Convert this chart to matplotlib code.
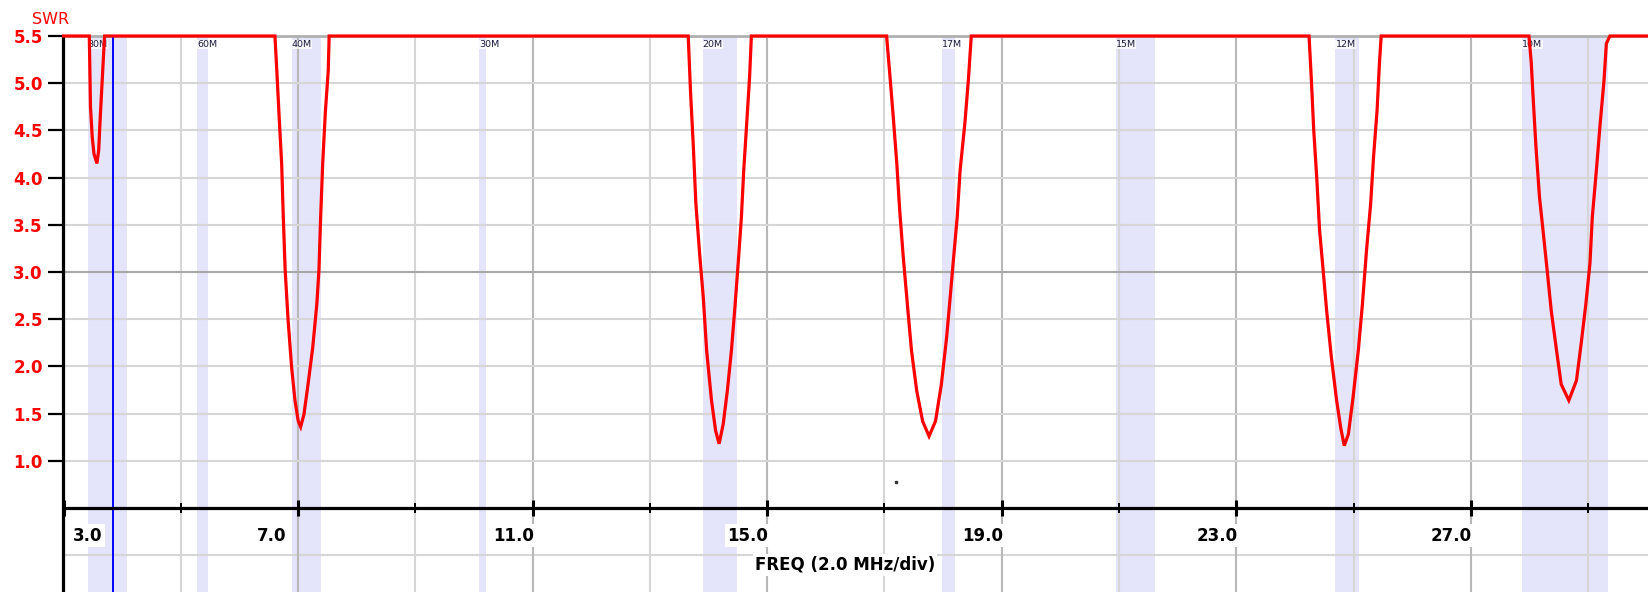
import numpy as np
import matplotlib
matplotlib.use("Agg")
import matplotlib.pyplot as plt
from matplotlib import transforms

# ---------------- data ----------------
band_names = ["80M", "60M", "40M", "30M", "20M", "17M", "15M", "12M", "10M"]
band_lo = [3.41, 5.28, 6.89, 10.09, 13.90, 17.98, 20.94, 24.69, 27.87]
band_hi = [4.08, 5.47, 7.385, 10.20, 14.49, 18.20, 21.61, 25.09, 29.33]

dip_80m_f = [3.44, 3.46, 3.49, 3.52, 3.57, 3.60, 3.63, 3.66, 3.70]
dip_80m_swr = [5.5, 4.75, 4.43, 4.25, 4.15, 4.29, 4.68, 5.03, 5.5]

dip_40m_f = [6.606, 6.646, 6.68, 6.72, 6.748, 6.78, 6.83, 6.89, 6.947, 7.003, 7.044,
             7.10, 7.17, 7.25, 7.32, 7.356, 7.385, 7.42, 7.464, 7.515, 7.53]
dip_40m_swr = [5.5, 5.03, 4.61, 4.15, 3.58, 3.02, 2.49, 1.99, 1.64, 1.42, 1.36,
               1.49, 1.81, 2.20, 2.66, 3.02, 3.58, 4.15, 4.68, 5.14, 5.5]

dip_20m_f = [13.653, 13.694, 13.738, 13.784, 13.852, 13.91, 13.967, 14.05, 14.12, 14.18,
             14.25, 14.32, 14.39, 14.45, 14.505, 14.56, 14.60, 14.65, 14.70, 14.73]
dip_20m_swr = [5.5, 4.89, 4.36, 3.72, 3.16, 2.73, 2.17, 1.64, 1.32, 1.18,
               1.39, 1.74, 2.17, 2.63, 3.09, 3.58, 4.08, 4.57, 5.07, 5.5]

dip_17m_f = [17.036, 17.09, 17.15, 17.21, 17.26, 17.32, 17.39, 17.46, 17.55, 17.65, 17.76,
             17.87, 17.97, 18.06, 18.12, 18.18, 18.24, 18.29, 18.37, 18.43, 18.48]
dip_17m_swr = [5.5, 5.10, 4.64, 4.15, 3.65, 3.16, 2.66, 2.17, 1.74, 1.42, 1.26,
               1.42, 1.81, 2.31, 2.73, 3.16, 3.58, 4.08, 4.57, 5.03, 5.5]

dip_12m_f = [24.24, 24.28, 24.32, 24.37, 24.42, 24.48, 24.54, 24.62, 24.71, 24.78, 24.84,
             24.91, 24.99, 25.08, 25.15, 25.22, 25.29, 25.34, 25.40, 25.44, 25.47]
dip_12m_swr = [5.5, 5.03, 4.50, 4.01, 3.44, 3.02, 2.59, 2.10, 1.64, 1.35, 1.16,
               1.28, 1.67, 2.17, 2.66, 3.23, 3.72, 4.22, 4.71, 5.21, 5.5]

dip_10m_f = [27.99, 28.03, 28.06, 28.11, 28.17, 28.23, 28.30, 28.37, 28.46, 28.54, 28.67,
             28.80, 28.88, 28.96, 29.03, 29.07, 29.14, 29.20, 29.27, 29.31, 29.37]
dip_10m_swr = [5.5, 5.21, 4.86, 4.32, 3.79, 3.44, 3.02, 2.59, 2.17, 1.81, 1.64,
               1.85, 2.24, 2.66, 3.09, 3.58, 4.08, 4.54, 5.03, 5.42, 5.5]

sweep_start, sweep_end = 3.0, 30.02
swr_ceiling = 5.5

marker_freq = 3.85          # blue cursor line
dot_freq, dot_swr = 17.19, 0.78

x_major = [3, 7, 11, 15, 19, 23, 27]
x_minor = [5, 9, 13, 17, 21, 25, 29]
x_labels = ["3.0", "7.0", "11.0", "15.0", "19.0", "23.0", "27.0"]
y_ticks = [1.0, 1.5, 2.0, 2.5, 3.0, 3.5, 4.0, 4.5, 5.0, 5.5]
y_labels = ["1.0", "1.5", "2.0", "2.5", "3.0", "3.5", "4.0", "4.5", "5.0", "5.5"]

freq = np.concatenate([[sweep_start], dip_80m_f, dip_40m_f, dip_20m_f, dip_17m_f,
                       dip_12m_f, dip_10m_f, [sweep_end]])
swr = np.concatenate([[swr_ceiling], dip_80m_swr, dip_40m_swr, dip_20m_swr, dip_17m_swr,
                      dip_12m_swr, dip_10m_swr, [swr_ceiling]])

# ---------------- figure ----------------
W, H = 1648, 592
fig = plt.figure(figsize=(W / 100, H / 100), dpi=100)
ax_left = 63.5 / W
ax_top_px = 36
ax = fig.add_axes([ax_left, 0, 1 - ax_left, 1 - ax_top_px / H])
ax.set_xlim(sweep_start, sweep_end)
ax.set_ylim(-0.39, 5.5)

# ham bands
for lo, hi, name in zip(band_lo, band_hi, band_names):
    ax.axvspan(lo, hi, color="#e4e4fa", zorder=0.2, lw=0)
    ax.text(lo, 5.41, name, fontsize=6.8, color="#1a1a3a", ha="left", va="center",
            zorder=2, bbox=dict(boxstyle="square,pad=0.05", fc="white", ec="none", alpha=0.75))

# grid
ax.set_axisbelow(True)
ax.set_xticks(x_major)
ax.set_xticks(x_minor, minor=True)
ax.set_yticks(y_ticks)
ax.grid(which="major", axis="x", color="#b8b8b8", lw=1.5)
ax.grid(which="minor", axis="x", color="#d6d6d6", lw=1.5)
ax.grid(which="major", axis="y", color="#d6d6d6", lw=1.5)
ax.axhline(0.0, color="#d6d6d6", lw=1.5, zorder=0.5)
ax.axhline(3.0, color="#a8a8a8", lw=1.5, zorder=0.6)
ax.axhline(5.5, color="#b0b0b0", lw=2.0, zorder=0.6, clip_on=False)

# spines
for s in ["top", "right"]:
    ax.spines[s].set_visible(False)
ax.spines["bottom"].set_position(("data", 0.5))
ax.spines["bottom"].set_linewidth(2.3)
ax.spines["left"].set_linewidth(2.3)
ax.spines["bottom"].set_zorder(2.5)
ax.spines["left"].set_zorder(2.5)

# ticks
ax.tick_params(axis="x", which="major", direction="inout", length=11.5, width=2.2,
               color="black", labelbottom=False)
ax.tick_params(axis="x", which="minor", direction="inout", length=6.5, width=1.4,
               color="black", labelbottom=False)
ax.set_yticklabels(y_labels)
ax.tick_params(axis="y", which="major", direction="out", length=11, width=1.6,
               color="black", pad=4, labelsize=12, labelcolor="#ff0000")
for lbl in ax.get_yticklabels():
    lbl.set_fontweight("bold")

# x tick labels (white boxed, right aligned to tick)
label_dx = {"3.0": None, "7.0": -12}
for xv, txt in zip(x_major, x_labels):
    if txt == "3.0":
        tr = transforms.offset_copy(ax.transData, fig=fig, x=9, y=-28, units="dots")
        ha = "left"
    else:
        dx = label_dx.get(txt, 1) or 1
        tr = transforms.offset_copy(ax.transData, fig=fig, x=dx, y=-28, units="dots")
        ha = "right"
    ax.text(xv, 0.5, txt, transform=tr, ha=ha, va="center", fontsize=12,
            fontweight="bold", color="black", zorder=3,
            bbox=dict(boxstyle="square,pad=0.15", fc="white", ec="none"))

fig.text(845 / W, 1 - 565 / H, "FREQ (2.0 MHz/div)", ha="center", va="center",
         fontsize=12, fontweight="bold", color="black",
         bbox=dict(boxstyle="square,pad=0.1", fc="white", ec="none"))

fig.text(50.5 / W, 1 - 19 / H, "SWR", ha="center", va="center", fontsize=11.5,
         color="#ff0000")

# cursor and curve
ax.axvline(marker_freq, color="#0000ff", lw=1.4, zorder=2)
ax.plot(freq, swr, color="#ff0000", lw=2.3, zorder=4, clip_on=False,
        solid_joinstyle="miter")
ax.plot([dot_freq], [dot_swr], "s", color="#333333", ms=1.5, zorder=4)

fig.savefig("out.png", dpi=100)
